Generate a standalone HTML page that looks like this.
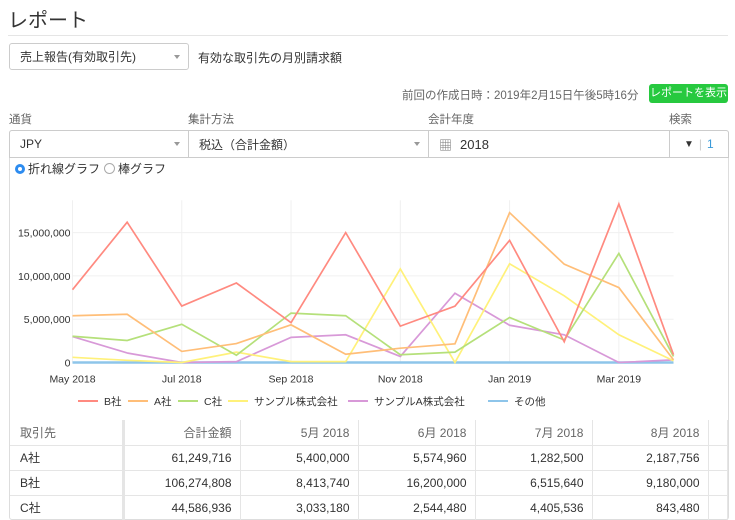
<!DOCTYPE html>
<html><head><meta charset="utf-8">
<style>
*{box-sizing:border-box;margin:0;padding:0}
body{width:735px;height:520px;overflow:hidden;background:#fff;font-family:"Liberation Sans","Noto Sans CJK JP",sans-serif;color:#333;position:relative}
.abs{position:absolute}
.sel{position:absolute;border:1px solid #ccc;background:#fff;font-size:12px;display:flex;align-items:center;padding-left:10px}
.caret{position:absolute;right:8px;top:50%;margin-top:-2px;border-left:3px solid transparent;border-right:3px solid transparent;border-top:4px solid #999}
.lbl{position:absolute;font-size:11.5px;color:#666}
table{border-collapse:collapse;font-size:12px}
td{height:25px;border-bottom:1px solid #e5e5e5;border-right:1px solid #e5e5e5;text-align:right;padding-right:8px}
</style></head><body>
<div class="abs" style="left:8px;top:4px;font-size:20px;color:#333">レポート</div>
<div class="abs" style="left:8px;top:35px;width:720px;height:1px;background:#e5e5e5"></div>
<div class="sel" style="left:9px;top:43px;width:180px;height:27px;border-radius:3px">売上報告(有効取引先)<span class="caret"></span></div>
<div class="abs" style="left:198px;top:49px;font-size:12px;color:#333">有効な取引先の月別請求額</div>
<div class="abs" style="left:402px;top:87px;font-size:11.5px;color:#666">前回の作成日時：2019年2月15日午後5時16分</div>
<div class="abs" style="left:649px;top:84px;width:79px;height:19px;background:#27c93f;border-radius:3px;color:#fff;font-size:11px;text-align:center;line-height:19px">レポートを表示</div>
<div class="lbl" style="left:9px;top:111px">通貨</div>
<div class="lbl" style="left:188px;top:111px">集計方法</div>
<div class="lbl" style="left:428px;top:111px">会計年度</div>
<div class="lbl" style="left:669px;top:111px">検索</div>
<div class="abs" style="left:9px;top:130px;width:720px;height:390px;border:1px solid #ddd;border-radius:3px"></div>
<div class="sel" style="left:9px;top:130px;width:180px;height:28px;border-width:1px 1px 1px 1px;border-radius:3px 0 0 0">JPY<span class="caret"></span></div>
<div class="sel" style="left:188px;top:130px;width:241px;height:28px">税込（合計金額）<span class="caret"></span></div>
<div class="sel" style="left:428px;top:130px;width:242px;height:28px;font-size:13px"><span style="color:#777;margin-right:8px">▦</span>2018</div>
<div class="sel" style="left:669px;top:130px;width:60px;height:28px;padding-left:14px;border-radius:0 3px 0 0"><span style="font-size:10px">▼</span><span style="color:#ccc;margin:0 5px">|</span><span style="color:#3a9ad9">1</span></div>
<div class="abs" style="left:15px;top:160px;font-size:12px;display:flex;align-items:center"><span style="width:10px;height:10px;border-radius:50%;border:3px solid #2d8cf0;display:inline-block;margin-right:3px"></span>折れ線グラフ</div>
<div class="abs" style="left:104px;top:160px;font-size:12px;display:flex;align-items:center"><span style="width:11px;height:11px;border-radius:50%;border:1px solid #aaa;display:inline-block;margin-right:3px"></span>棒グラフ</div>
<svg id="chart" class="abs" style="left:0;top:0" width="735" height="420"></svg>
<div class="abs" style="left:10px;top:420px;width:718px;height:100px;overflow:hidden">
<table style="width:718px">
<tr style="color:#666"><td style="text-align:left;padding-left:10px;width:113px;border-right:3px solid #e5e5e5">取引先</td><td style="width:117px">合計金額</td><td style="width:118px">5月 2018</td><td style="width:117px">6月 2018</td><td style="width:117px">7月 2018</td><td style="width:116px">8月 2018</td><td></td></tr>
<tr><td style="text-align:left;padding-left:10px;border-right:3px solid #e5e5e5">A社</td><td>61,249,716</td><td>5,400,000</td><td>5,574,960</td><td>1,282,500</td><td>2,187,756</td><td></td></tr>
<tr><td style="text-align:left;padding-left:10px;border-right:3px solid #e5e5e5">B社</td><td>106,274,808</td><td>8,413,740</td><td>16,200,000</td><td>6,515,640</td><td>9,180,000</td><td></td></tr>
<tr><td style="text-align:left;padding-left:10px;border-right:3px solid #e5e5e5">C社</td><td>44,586,936</td><td>3,033,180</td><td>2,544,480</td><td>4,405,536</td><td>843,480</td><td></td></tr>
</table></div>
<script>
const months=["May 2018","Jun 2018","Jul 2018","Aug 2018","Sep 2018","Oct 2018","Nov 2018","Dec 2018","Jan 2019","Feb 2019","Mar 2019","Apr 2019"];
const seriesNames=["B社","A社","C社","サンプル株式会社","サンプルA株式会社","その他"];
const seriesColors=["#ff8a80","#ffbe78","#b5e07a","#fff17a","#d899d8","#8ec5ea"];
const valuesB=[8.41,16.2,6.52,9.18,4.6,15.0,4.2,6.5,14.1,2.4,18.3,0.9];
const valuesA=[5.4,5.57,1.28,2.19,4.35,0.95,1.65,2.15,17.3,11.35,8.65,0.3];
const valuesC=[3.03,2.54,4.41,0.84,5.7,5.4,0.9,1.2,5.2,2.6,12.6,0.7];
const valuesSample=[0.6,0.25,0,1.2,0.1,0.1,10.8,0,11.4,7.7,3.2,0.2];
const valuesSampleA=[3.0,1.1,0,0.1,2.9,3.2,0.7,8.0,4.3,3.2,0,0.3];
const valuesOther=[0,0,0,0,0,0,0,0,0,0,0,0];
const yTicks=[0,5,10,15];
const yTickLabels=["0","5,000,000","10,000,000","15,000,000"];
const allSeries=[valuesB,valuesA,valuesC,valuesSample,valuesSampleA,valuesOther];
const NS="http://www.w3.org/2000/svg";
const svg=document.getElementById('chart');
const x0=72.5,x1=673.5,y0=362.5,pxPerM=43.3/5;
const xs=i=>x0+(x1-x0)*i/(months.length-1);
const ys=v=>y0-v*pxPerM;
function mk(t,a){const e=document.createElementNS(NS,t);for(const k in a)e.setAttribute(k,a[k]);svg.appendChild(e);return e;}
const ttop=ys(18.5)-2;
for(let i=0;i<months.length;i+=2){
 const g=mk('line',{x1:xs(i),x2:xs(i),y1:ttop,y2:y0,stroke:'#f0f0f0'});
 
 
 const t=mk('text',{x:xs(i),y:y0+20,'text-anchor':'middle','font-size':'10.5','fill':'#333'});
 t.textContent=months[i].replace(/^(\w+)/,m=>m);
 
 
}
yTicks.forEach((v,i)=>{
 const g=mk('line',{x1:x0,x2:x1,y1:ys(v),y2:ys(v),stroke:'#f0f0f0'});
 
 
 const t=mk('text',{x:x0-2,y:ys(v)+4,'text-anchor':'end','font-size':'10.5','fill':'#333'});
 t.textContent=yTickLabels[i];
 
 
});
for(let s=allSeries.length-1;s>=0;s--){
 const pts=allSeries[s].map((v,i)=>xs(i)+','+ys(v)).join(' ');
 const p=mk('polyline',{points:pts,fill:'none',stroke:seriesColors[s],'stroke-width':s===5?2.5:1.7});
 
 
}
let lx=78;
const legW=[50,50,50,120,140,60];
seriesNames.forEach((n,i)=>{
 const l=mk('line',{x1:lx,x2:lx+20,y1:401,y2:401,stroke:seriesColors[i],'stroke-width':2});
 
 
 const t=mk('text',{x:lx+26,y:405,'font-size':'10.5','fill':'#333'});
 t.textContent=n;
 
 
 lx+=legW[i];
});
</script>
</body></html>
